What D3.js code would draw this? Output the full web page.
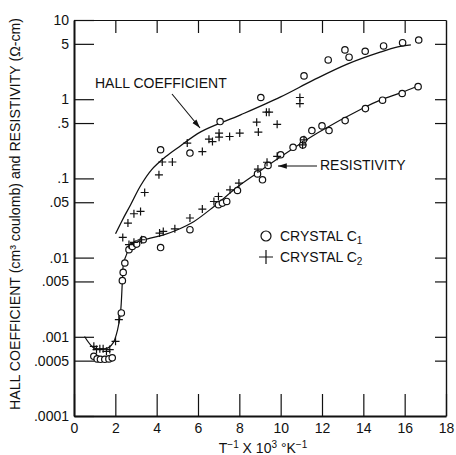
<!DOCTYPE html>
<meta charset="utf-8">
<script src="https://d3js.org/d3.v7.min.js"></script>
<style>
  body { margin: 0; background: #fff; overflow: hidden; }
  text { font-family: "Liberation Sans", Arial, sans-serif; fill: #111; }
</style>
<div id="my_dataviz"></div>
<script>

// tick values and labels
var xTicks = [0, 2, 4, 6, 8, 10, 12, 14, 16, 18];
var yTicks = [10, 5, 1, .5, .1, .05, .01, .005, .001, .0005, .0001];
var yTickLabels = ["10", "5", "1", ".5", ".1", ".05", ".01", ".005", ".001", ".0005", ".0001"];

// smooth curves drawn through the data  [T^-1 x 10^3, value]
var hallCurve = [[2.01, 0.020], [2.35, 0.0301], [2.74, 0.0465], [3.22, 0.0807], [3.75, 0.128],
  [4.43, 0.187], [5.16, 0.258], [6.13, 0.387], [8.06, 0.634], [10.0, 1.07], [11.6, 1.75],
  [13.25, 2.79], [14.85, 3.95], [15.67, 4.57], [16.3, 4.84]];

var resistivityCurve = [[0.51, 0.00101], [0.94, 0.00073], [1.28, 0.00069], [1.67, 0.00073],
  [1.91, 0.00085], [2.11, 0.00123], [2.25, 0.00202], [2.34, 0.00497], [2.40, 0.00863],
  [2.54, 0.0109], [2.74, 0.0146], [3.37, 0.0168], [4.34, 0.0194], [5.01, 0.0225],
  [5.79, 0.0284], [6.76, 0.0439], [7.92, 0.0783], [8.89, 0.118], [10.0, 0.187],
  [11.8, 0.376], [14.0, 0.776], [14.85, 0.98], [15.8, 1.20], [16.64, 1.47]];

// Hall coefficient points
var hallC1 = [[4.19, 0.230], [5.61, 0.209], [7.07, 0.522], [9.04, 1.05], [11.13, 1.97],
  [12.30, 3.13], [13.11, 4.19], [13.31, 3.39], [14.09, 4.03], [14.98, 4.70], [15.90, 5.17], [16.68, 5.59]];

var hallC2 = [[2.36, 0.0180], [2.61, 0.0273], [2.90, 0.0358], [3.22, 0.0383], [3.42, 0.0664],
  [4.11, 0.111], [4.27, 0.161], [4.76, 0.161], [5.48, 0.279], [6.21, 0.218], [6.53, 0.313],
  [6.70, 0.292], [7.02, 0.373], [7.02, 0.332], [7.53, 0.338], [8.02, 0.373], [8.84, 0.513],
  [8.92, 0.384], [9.31, 0.686], [9.44, 0.686], [9.83, 0.481], [10.93, 1.05], [10.93, 0.88]];

// resistivity points
var resC1 = [[0.96, 0.000568], [1.12, 0.000526], [1.28, 0.00052], [1.49, 0.00052], [1.69, 0.000526],
  [1.85, 0.000542], [2.29, 0.0020], [2.34, 0.00512], [2.38, 0.0065], [2.46, 0.00855],
  [2.66, 0.0126], [2.82, 0.0138], [3.03, 0.0148], [3.35, 0.0168], [4.19, 0.0134],
  [5.61, 0.0225], [6.99, 0.0465], [7.18, 0.0488], [7.39, 0.0512], [7.91, 0.0703],
  [8.88, 0.114], [9.12, 0.096], [9.39, 0.146], [10.0, 0.199], [10.60, 0.247], [11.07, 0.265],
  [11.10, 0.307], [11.51, 0.402], [12.0, 0.460], [12.34, 0.402], [13.12, 0.537],
  [14.10, 0.761], [14.93, 0.971], [15.88, 1.18], [16.65, 1.44]];

var resC2 = [[0.96, 0.000759], [1.09, 0.00069], [1.25, 0.000704], [1.41, 0.000704], [1.57, 0.000656],
  [1.73, 0.00069], [2.01, 0.000877], [2.17, 0.00165], [2.66, 0.0146], [2.90, 0.0156],
  [3.27, 0.0168], [4.14, 0.0204], [4.32, 0.0214], [4.88, 0.0231], [5.61, 0.0316],
  [6.21, 0.0410], [6.77, 0.0511], [6.99, 0.0591], [7.55, 0.0718], [7.98, 0.0873],
  [8.90, 0.131], [9.34, 0.160], [9.83, 0.190], [11.06, 0.265], [11.13, 0.307]];

var svg = d3.select("#my_dataviz")
  .append("svg")
  .attr("width", 456)
  .attr("height", 455);

var plotLeft = 74, plotRight = 446, plotTop = 20, plotBottom = 416;

var x = d3.scaleLinear().domain([0, 18]).range([plotLeft, plotRight]);
var y = d3.scaleLog().domain([0.0001, 10]).range([plotBottom, plotTop]);

// frame + axes
var xAxis = svg.append("g")
  .attr("transform", "translate(0," + plotBottom + ")")
  .call(d3.axisBottom(x).tickValues(xTicks).tickSizeInner(-22).tickSizeOuter(0).tickPadding(7));
xAxis.select(".domain").attr("stroke-width", 2);

var yAxis = svg.append("g")
  .attr("transform", "translate(" + plotLeft + ",0)")
  .call(d3.axisLeft(y).tickValues(yTicks).tickFormat(function(d, i) { return yTickLabels[i]; })
    .tickSizeInner(-20).tickSizeOuter(0).tickPadding(5));
yAxis.select(".domain").attr("stroke-width", 2);

var topAxis = svg.append("g")
  .attr("transform", "translate(0," + plotTop + ")")
  .call(d3.axisTop(x).tickValues(xTicks.slice(1, -1)).tickFormat("").tickSizeInner(-13).tickSizeOuter(0));
topAxis.select(".domain").attr("stroke-width", 1);

var rightAxis = svg.append("g")
  .attr("transform", "translate(" + plotRight + ",0)")
  .call(d3.axisRight(y).tickValues(yTicks.slice(1, -1)).tickFormat("").tickSizeInner(-11).tickSizeOuter(0));
rightAxis.select(".domain").attr("stroke-width", 1.4);

svg.selectAll(".tick line").attr("stroke", "#111").attr("stroke-width", 1.2);
svg.selectAll(".domain").attr("stroke", "#111");
svg.selectAll(".tick text").attr("font-size", 14).attr("fill", "#111")
  .style("font-family", "'Liberation Sans', Arial, sans-serif");

// curves
var line = d3.line()
  .x(function(d) { return x(d[0]); })
  .y(function(d) { return y(d[1]); })
  .curve(d3.curveCatmullRom.alpha(0.5));

svg.append("path").datum(hallCurve)
  .attr("d", line).attr("fill", "none").attr("stroke", "#111").attr("stroke-width", 1.3);
svg.append("path").datum(resistivityCurve)
  .attr("d", line).attr("fill", "none").attr("stroke", "#111").attr("stroke-width", 1.2);

// markers
function circles(data) {
  svg.append("g").selectAll("circle")
    .data(data).enter().append("circle")
    .attr("cx", function(d) { return x(d[0]); })
    .attr("cy", function(d) { return y(d[1]); })
    .attr("r", 3.2)
    .attr("fill", "#fff")
    .attr("stroke", "#111")
    .attr("stroke-width", 1.2);
}
function crosses(data) {
  svg.append("g").selectAll("path")
    .data(data).enter().append("path")
    .attr("d", function(d) {
      var cx = x(d[0]), cy = y(d[1]), s = 4;
      return "M" + (cx - s) + "," + cy + "H" + (cx + s) + "M" + cx + "," + (cy - s) + "V" + (cy + s);
    })
    .attr("stroke", "#111")
    .attr("stroke-width", 1.2);
}
circles(hallC1);
circles(resC1);
crosses(hallC2);
crosses(resC2);

// annotations
svg.append("defs").append("marker")
  .attr("id", "arr").attr("viewBox", "0 0 10 10").attr("refX", 10).attr("refY", 5)
  .attr("markerWidth", 8).attr("markerHeight", 8).attr("orient", "auto")
  .append("path").attr("d", "M0,2 L10,5 L0,8 Z").attr("fill", "#111");

svg.append("text").attr("x", 95).attr("y", 88).attr("font-size", 14).text("HALL COEFFICIENT");
svg.append("line").attr("x1", 172).attr("y1", 94).attr("x2", 200).attr("y2", 128)
  .attr("stroke", "#111").attr("stroke-width", 1.1).attr("marker-end", "url(#arr)");

svg.append("text").attr("x", 320).attr("y", 170).attr("font-size", 14).text("RESISTIVITY");
svg.append("line").attr("x1", 317).attr("y1", 166).attr("x2", 278).attr("y2", 166)
  .attr("stroke", "#111").attr("stroke-width", 1.1).attr("marker-end", "url(#arr)");

// legend
svg.append("circle").attr("cx", 266).attr("cy", 236).attr("r", 5)
  .attr("fill", "none").attr("stroke", "#111").attr("stroke-width", 1.2);
svg.append("path").attr("d", "M259,257H273M266,250V264").attr("stroke", "#111").attr("stroke-width", 1.2);
var l1 = svg.append("text").attr("x", 280).attr("y", 241).attr("font-size", 14);
l1.append("tspan").text("CRYSTAL  C");
l1.append("tspan").attr("font-size", 10).attr("dy", 3).text("1");
var l2 = svg.append("text").attr("x", 280).attr("y", 262).attr("font-size", 14);
l2.append("tspan").text("CRYSTAL  C");
l2.append("tspan").attr("font-size", 10).attr("dy", 3).text("2");

// axis titles
var xt = svg.append("text").attr("x", 263).attr("y", 453).attr("text-anchor", "middle").attr("font-size", 14);
xt.append("tspan").text("T");
xt.append("tspan").attr("font-size", 10).attr("dy", -5).text("−1");
xt.append("tspan").attr("dy", 5).text(" X 10");
xt.append("tspan").attr("font-size", 10).attr("dy", -5).text("3");
xt.append("tspan").attr("dy", 5).text(" °K");
xt.append("tspan").attr("font-size", 10).attr("dy", -5).text("−1");

svg.append("text")
  .attr("transform", "translate(20,214) rotate(-90)")
  .attr("text-anchor", "middle")
  .attr("font-size", 14)
  .attr("textLength", 392)
  .attr("lengthAdjust", "spacingAndGlyphs")
  .text("HALL COEFFICIENT (cm³ coulomb) and RESISTIVITY (Ω-cm)");

</script>
